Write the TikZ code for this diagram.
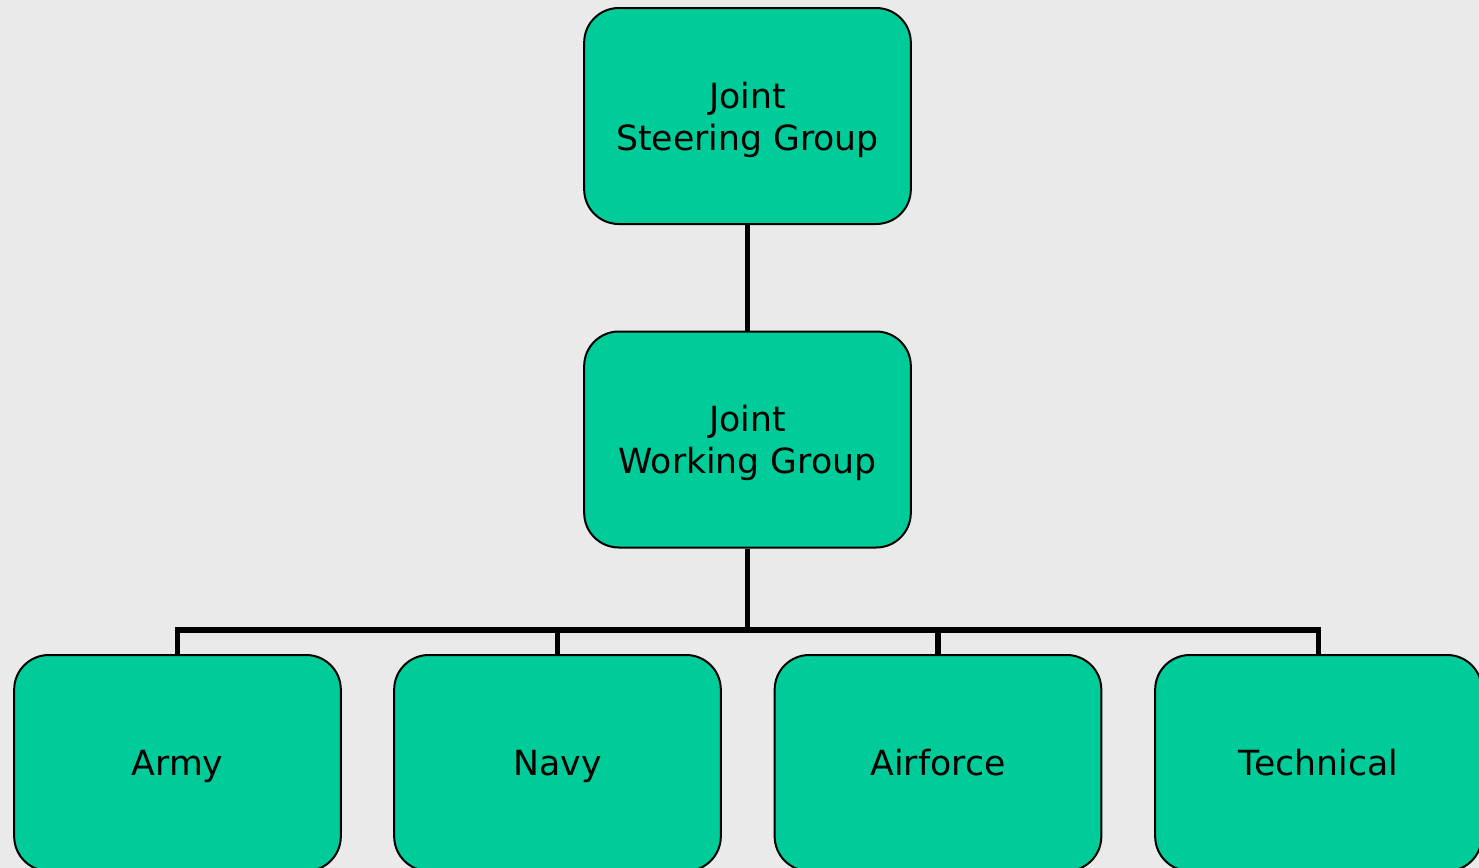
\documentclass[tikz,border=0pt]{standalone}
\usepackage{fontspec}
\setmainfont{DejaVu Sans}
\definecolor{boxgreen}{HTML}{00CC99}
\definecolor{paper}{HTML}{EAEAEA}

\begin{document}
\begin{tikzpicture}[x=0.75pt,y=-0.75pt,
   group/.style={draw=black,line width=1.5pt,fill=boxgreen,rounded corners=26pt,
      minimum width=245pt,minimum height=162pt,inner sep=0pt,align=center,
      text depth=0pt,font=\fontsize{26}{31.5}\selectfont},
   unit/.style={group,text height=23pt,text depth=5pt},
   link/.style={line width=3.8pt,line join=miter}]
   \useasboundingbox (0,0) rectangle (1479,868);
   \fill[paper] (0,0) rectangle (1479,868);
   \clip (0,0) rectangle (1479,868);

   % top and middle
   \node[group] (steer) at (747.5,116) {Joint\\Steering Group};
   \node[group] (work) at (747.5,439.5) {Joint\\Working Group};

   % bottom row
   \node[unit] (army) at (177.5,763) {Army};
   \node[unit] (navy) at (557.5,763) {Navy};
   \node[unit] (air) at (938,763) {Airforce};
   \node[unit] (tech) at (1318.5,763) {Technical};

   \coordinate (bus) at (747.5,630);
   \draw[link] (steer) -- (work);
   \draw[link] (work) -- (bus);
   \draw[link] (army.north) |- (bus) -| (tech.north);
   \draw[link] (navy.north) -- (navy.north |- bus);
   \draw[link] (air.north) -- (air.north |- bus);
\end{tikzpicture}
\end{document}
